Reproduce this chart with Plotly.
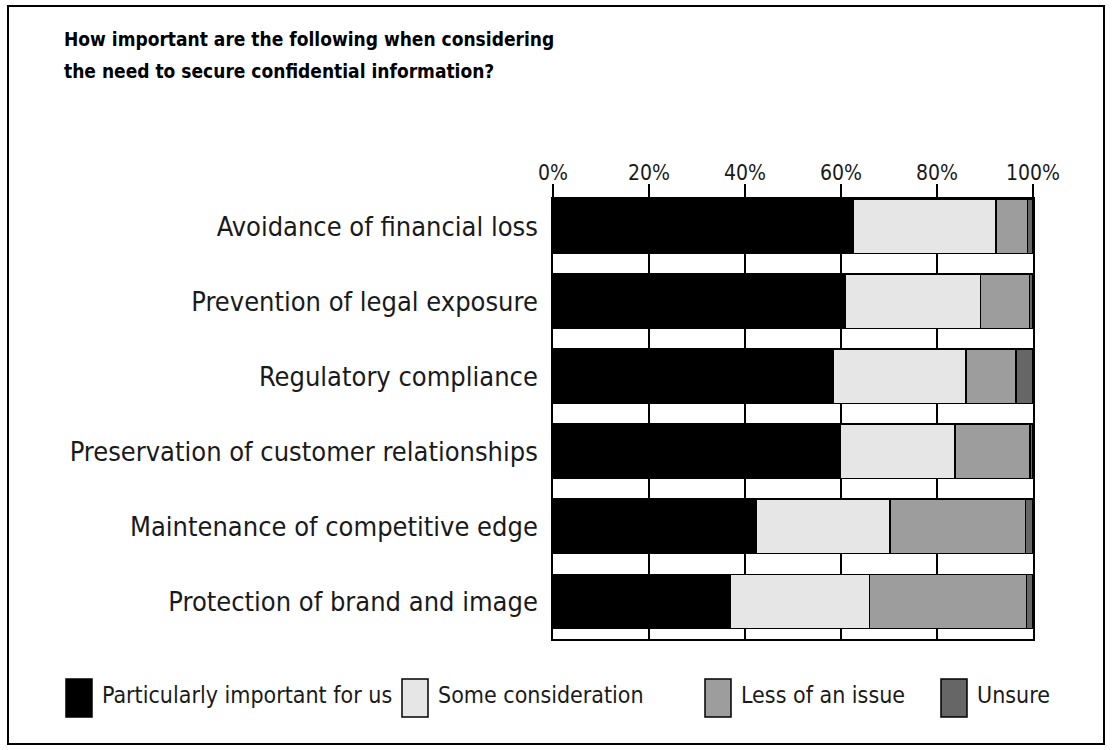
import plotly.graph_objects as go

categories = [
    "Avoidance of financial loss",
    "Prevention of legal exposure",
    "Regulatory compliance",
    "Preservation of customer relationships",
    "Maintenance of competitive edge",
    "Protection of brand and image",
]
series_names = ["Particularly important for us", "Some consideration", "Less of an issue", "Unsure"]
particularly = [62.6, 60.8, 58.3, 59.9, 42.4, 37.0]
some = [29.7, 28.3, 27.7, 23.9, 27.8, 28.9]
less = [6.6, 10.2, 10.5, 15.6, 28.2, 32.7]
unsure = [1.1, 0.7, 3.5, 0.6, 1.6, 1.4]
tick_vals = [0, 20, 40, 60, 80, 100]
tick_text = ["0%", "20%", "40%", "60%", "80%", "100%"]
title_lines = ["How important are the following when considering",
               "the need to secure confidential information?"]

colors = ["#000000", "#e6e6e6", "#9d9d9d", "#666666"]
FONT = "Liberation Sans Narrow, Arial Narrow, DejaVu Sans Condensed, sans-serif"
TXT = "#1a1a1a"

W, H = 1112, 750
L, R, T, B = 553, 1033, 199, 639

fig = go.Figure()
for name, vals, col in zip(series_names, [particularly, some, less, unsure], colors):
    fig.add_trace(go.Bar(
        y=categories, x=vals, name=name, orientation="h",
        marker=dict(color=col, line=dict(color="#000000", width=1.5)),
        showlegend=False, hoverinfo="x+y+name",
    ))

fig.update_layout(
    width=W, height=H,
    margin=dict(l=L, r=W - R, t=T, b=H - B, pad=0),
    barmode="stack", bargap=0.275,
    plot_bgcolor="white", paper_bgcolor="white",
    font=dict(family=FONT, color=TXT),
    xaxis=dict(
        side="top", range=[0, 100], tickvals=tick_vals, ticktext=tick_text,
        ticks="outside", ticklen=13, tickwidth=1.5, tickcolor="#000",
        showgrid=True, gridcolor="#000", gridwidth=1.5, zeroline=False,
        showline=True, linecolor="#000", linewidth=1.5, mirror=True,
        tickfont=dict(size=21, family=FONT, color=TXT),
        ticklabelstandoff=-4,
        fixedrange=True,
    ),
    yaxis=dict(
        type="category", range=[5.5, -0.3625],
        showgrid=False, zeroline=False, ticks="",
        showline=True, linecolor="#000", linewidth=1.5, mirror=True,
        tickfont=dict(size=27, family=FONT, color=TXT),
        ticklabelstandoff=8, fixedrange=True,
    ),
)

def px_x(px):
    return (px - L) / (R - L)

def px_y(py):
    return (B - py) / (B - T)

shapes = []
annotations = []
# outer frame
shapes.append(dict(type="rect", xref="paper", yref="paper",
                   x0=px_x(8), x1=px_x(1104), y0=px_y(744), y1=px_y(6),
                   line=dict(color="#000", width=2), fillcolor="rgba(0,0,0,0)", layer="below"))

# title
for i, line in enumerate(title_lines):
    annotations.append(dict(text="<b>" + line + "</b>", xref="paper", yref="paper",
                            x=px_x(62), y=px_y(39 + 32 * i), xanchor="left", yanchor="middle",
                            showarrow=False, font=dict(size=19, family=FONT, color="#000")))

# legend (manual swatches)
sw_x = [66, 402, 705, 941]
for name, col, x0 in zip(series_names, colors, sw_x):
    shapes.append(dict(type="rect", xref="paper", yref="paper",
                       x0=px_x(x0), x1=px_x(x0 + 26), y0=px_y(717), y1=px_y(679),
                       line=dict(color="#000", width=1.5), fillcolor=col))
    annotations.append(dict(text=name, xref="paper", yref="paper",
                            x=px_x(x0 + 34), y=px_y(695), xanchor="left", yanchor="middle",
                            showarrow=False, font=dict(size=23, family=FONT, color=TXT)))

fig.update_layout(shapes=shapes, annotations=annotations)
fig.write_html("out.html")
